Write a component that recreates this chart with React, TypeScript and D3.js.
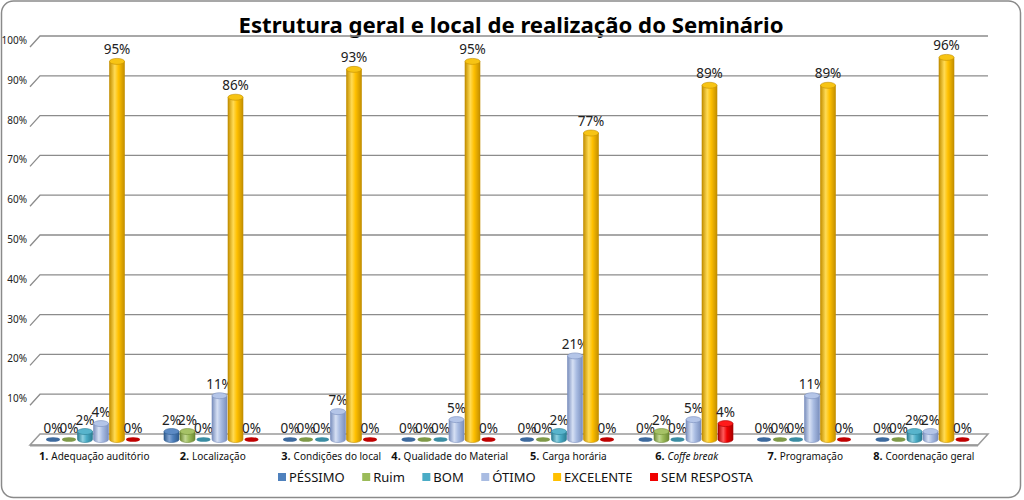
import React, { useEffect, useRef } from "react";
import * as d3 from "d3";

const title = "Estrutura geral e local de realização do Seminário";
const categories = [
  "Adequação auditório",
  "Localização",
  "Condições do local",
  "Qualidade do Material",
  "Carga horária",
  "Coffe break",
  "Programação",
  "Coordenação geral",
];
const italicCategory = "Coffe break";
const seriesNames = ["PÉSSIMO", "Ruim", "BOM", "ÓTIMO", "EXCELENTE", "SEM RESPOSTA"];
const pessimo = [0, 2, 0, 0, 0, 0, 0, 0];
const ruim = [0, 2, 0, 0, 0, 2, 0, 0];
const bom = [2, 0, 0, 0, 2, 0, 0, 2];
const otimo = [4, 11, 7, 5, 21, 5, 11, 2];
const excelente = [95, 86, 93, 95, 77, 89, 89, 96];
const semResposta = [0, 0, 0, 0, 0, 4, 0, 0];
const yTicks = [0, 10, 20, 30, 40, 50, 60, 70, 80, 90, 100];

const seriesValues = [pessimo, ruim, bom, otimo, excelente, semResposta];

const palette = [
  { base: "#4F81BD", light: "#86A8D6", dark: "#2E5A8E", cap: "#5B8AC4", zero: "#3D6A9E" },
  { base: "#9BBB59", light: "#C2D893", dark: "#6C8833", cap: "#A6C266", zero: "#7F9A48" },
  { base: "#4BACC6", light: "#8FD0E0", dark: "#2A7D93", cap: "#58B4CC", zero: "#3A8DA3" },
  { base: "#A9BCE2", light: "#D6E0F4", dark: "#7A8FBD", cap: "#B4C5E8", zero: "#8EA3CE" },
  { base: "#FFC000", light: "#FFDB55", dark: "#C38F00", cap: "#F7C414", zero: "#D9A300" },
  { base: "#F00000", light: "#FF5A5A", dark: "#A80000", cap: "#FF1A1A", zero: "#C00000" },
];

const FONT = "'Noto Sans', 'Open Sans', sans-serif";

export default function App() {
  const ref = useRef<SVGSVGElement | null>(null);

  useEffect(() => {
    const svg = d3.select(ref.current);
    svg.selectAll("*").remove();

    const W = 1024;
    const H = 500;
    const backLeft = 40;
    const backRight = 988;
    const dx = 10;
    const dy = 11;

    const yBack = d3.scaleLinear().domain([0, 100]).range([434, 36]);
    const xBack = d3.scaleBand<string>().domain(categories).range([backLeft, backRight]);
    const x1 = d3.scaleBand<string>().domain(seriesNames).range([10, 106]);
    const yMid = (v: number) => yBack(v) + dy / 2;
    const midShift = -dx / 2;

    // border
    svg
      .append("rect")
      .attr("x", 1.5)
      .attr("y", 1)
      .attr("width", W - 5)
      .attr("height", H - 3.5)
      .attr("rx", 12)
      .attr("fill", "#fff")
      .attr("stroke", "#8a8a8a")
      .attr("stroke-width", 1.5);

    // defs gradients
    const defs = svg.append("defs");
    palette.forEach((p, i) => {
      const g = defs
        .append("linearGradient")
        .attr("id", `cyl${i}`)
        .attr("x1", 0)
        .attr("x2", 1)
        .attr("y1", 0)
        .attr("y2", 0);
      g.append("stop").attr("offset", 0).attr("stop-color", p.dark);
      g.append("stop").attr("offset", 0.35).attr("stop-color", p.light);
      g.append("stop").attr("offset", 0.6).attr("stop-color", p.base);
      g.append("stop").attr("offset", 1).attr("stop-color", p.dark);
    });

    // title
    svg
      .append("text")
      .attr("x", 511)
      .attr("y", 33)
      .attr("text-anchor", "middle")
      .attr("font-family", FONT)
      .attr("font-weight", "bold")
      .attr("font-size", 21)
      .attr("textLength", 545)
      .attr("lengthAdjust", "spacingAndGlyphs")
      .attr("fill", "#000")
      .text(title);

    // floor
    const floor = [
      [backLeft, yBack(0)],
      [backRight, yBack(0)],
      [backRight - dx, yBack(0) + dy],
      [backLeft - dx, yBack(0) + dy],
    ];
    svg
      .append("path")
      .attr("d", d3.line()(floor as [number, number][]) + "Z")
      .attr("fill", "#fff")
      .attr("stroke", "#9a9a9a")
      .attr("stroke-width", 1.5);
    svg
      .append("line")
      .attr("x1", backLeft - dx)
      .attr("x2", backRight - dx)
      .attr("y1", yBack(0) + dy + 0.5)
      .attr("y2", yBack(0) + dy + 0.5)
      .attr("stroke", "#9a9a9a")
      .attr("stroke-width", 2);

    // gridlines
    yTicks
      .filter((t) => t > 0)
      .forEach((t) => {
        const y = yBack(t);
        svg
          .append("path")
          .attr("d", `M${backLeft - dx},${y + dy}L${backLeft},${y}L${backRight},${y}`)
          .attr("fill", "none")
          .attr("stroke", "#8c8c8c")
          .attr("stroke-width", 1.3);
        svg
          .append("text")
          .attr("x", 27)
          .attr("y", y + 8)
          .attr("text-anchor", "end")
          .attr("font-family", FONT)
          .attr("font-size", 10)
          .attr("fill", "#222")
          .text(`${t}%`);
      });

    // bars
    const rx = 7.5;
    const ry = 3;
    const bw = xBack.bandwidth();
    categories.forEach((cat, ci) => {
      seriesNames.forEach((s, si) => {
        const v = seriesValues[si][ci];
        const p = palette[si];
        const cx = (xBack(cat) as number) + midShift + (x1(s) as number) + x1.bandwidth() / 2;
        const bottom = yMid(0);
        const top = yMid(v);
        const g = svg.append("g");
        if (v > 0) {
          g.append("path")
            .attr(
              "d",
              `M${cx - rx},${top}L${cx - rx},${bottom}A${rx},${ry} 0 0 0 ${cx + rx},${bottom}L${cx + rx},${top}Z`
            )
            .attr("fill", `url(#cyl${si})`)
            .attr("stroke", p.dark)
            .attr("stroke-width", 0.6);
          g.append("ellipse")
            .attr("cx", cx)
            .attr("cy", top)
            .attr("rx", rx)
            .attr("ry", ry)
            .attr("fill", p.cap)
            .attr("stroke", p.dark)
            .attr("stroke-width", 0.6);
        } else {
          g.append("ellipse")
            .attr("cx", cx)
            .attr("cy", bottom)
            .attr("rx", rx - 0.5)
            .attr("ry", 2.3)
            .attr("fill", p.zero);
        }
        svg
          .append("text")
          .attr("x", cx)
          .attr("y", top - ry - 4)
          .attr("text-anchor", "middle")
          .attr("font-family", FONT)
          .attr("font-size", 13.5)
          .attr("fill", "#222")
          .text(`${v}%`);
      });

      // category label
      const t = svg
        .append("text")
        .attr("x", (xBack(cat) as number) + bw / 2 + midShift)
        .attr("y", 460)
        .attr("text-anchor", "middle")
        .attr("font-family", FONT)
        .attr("font-size", 10)
        .attr("fill", "#111");
      t.append("tspan").attr("font-weight", "bold").attr("font-size", 11).text(`${ci + 1}. `);
      t.append("tspan")
        .attr("font-style", cat === italicCategory ? "italic" : "normal")
        .text(cat);
    });

    // legend
    let lx = 278;
    seriesNames.forEach((s, si) => {
      svg
        .append("rect")
        .attr("x", lx)
        .attr("y", 473)
        .attr("width", 8)
        .attr("height", 8)
        .attr("fill", palette[si].base);
      const txt = svg
        .append("text")
        .attr("x", lx + 11)
        .attr("y", 482)
        .attr("font-family", FONT)
        .attr("font-size", 13)
        .attr("fill", "#111")
        .text(s);
      const w = (txt.node() as SVGTextElement).getComputedTextLength();
      lx += 11 + w + 17.5;
    });
  }, []);

  return (
    <svg
      ref={ref}
      width={1024}
      height={500}
      style={{ position: "absolute", left: 0, top: 0, display: "block", background: "#fff" }}
    />
  );
}
